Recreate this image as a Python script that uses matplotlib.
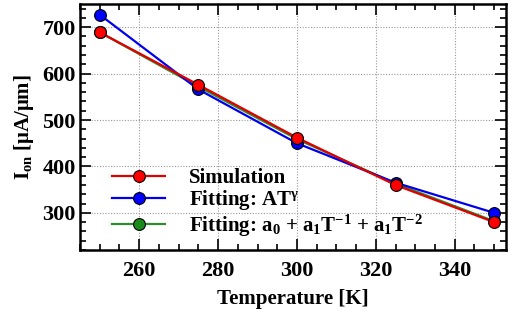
import matplotlib
matplotlib.use("Agg")
import matplotlib.pyplot as plt
from matplotlib.ticker import MultipleLocator

temperature = [250, 275, 300, 325, 350]
simulation = [689, 576, 462, 360, 280]
fit_power = [727, 566, 450, 365, 300]
fit_poly = [689, 572, 459, 363, 282]

plt.rcParams["font.family"] = ["Liberation Serif", "DejaVu Serif"]
plt.rcParams["font.weight"] = "bold"
plt.rcParams["mathtext.fontset"] = "custom"
plt.rcParams["mathtext.rm"] = "Liberation Serif:bold"
plt.rcParams["mathtext.it"] = "Liberation Serif:bold"
plt.rcParams["mathtext.bf"] = "Liberation Serif:bold"

fig = plt.figure(figsize=(5.08, 3.20), dpi=100)
ax = fig.add_axes([80 / 508, 70 / 320, 426 / 508, 246 / 320])

style = dict(marker="o", markersize=8.5, markeredgecolor="black", markeredgewidth=0.8, linewidth=1.6)
ax.plot(temperature, fit_poly, color="#2e8b2e", markerfacecolor="#1a8a1a", zorder=3,
        label=r"Fitting: a$_0$ + a$_1$T$^{-1}$ + a$_1$T$^{-2}$", **style)
ax.plot(temperature, fit_power, color="#0000ee", markerfacecolor="#0000ff", zorder=4,
        label=r"Fitting: AT$^{\gamma}$", **style)
ax.plot(temperature, simulation, color="#e00000", markerfacecolor="#ff0000", zorder=5,
        label="Simulation", **style)

ax.set_xlim(245, 353)
ax.set_ylim(220, 750)
ax.xaxis.set_major_locator(MultipleLocator(20))
ax.xaxis.set_minor_locator(MultipleLocator(5))
ax.yaxis.set_major_locator(MultipleLocator(100))
ax.yaxis.set_minor_locator(MultipleLocator(20))
ax.tick_params(which="both", direction="in", top=True, right=True, labelsize=16, width=1.2)
ax.tick_params(which="major", length=8)
ax.tick_params(which="minor", length=4)
ax.tick_params(axis="x", which="major", pad=8)
ax.tick_params(axis="y", which="major", pad=3)
ax.grid(True, which="major", linestyle=(0, (1, 1.5)), color="#999999", linewidth=0.8)
for spine in ax.spines.values():
    spine.set_linewidth(1.8)

ax.set_xlabel("Temperature [K]", fontsize=15, fontweight="bold", labelpad=6)
ax.set_ylabel(r"I$_{\mathrm{on}}$ [μA/μm]", fontsize=15, fontweight="bold", labelpad=5)

handles, labels = ax.get_legend_handles_labels()
ax.legend(handles[::-1], labels[::-1], loc="lower left", bbox_to_anchor=(0.042, -0.013),
          frameon=False, fontsize=15, handlelength=2.5, handletextpad=1.15,
          labelspacing=0.0, borderpad=0.2)

fig.savefig("out.png", dpi=100)
